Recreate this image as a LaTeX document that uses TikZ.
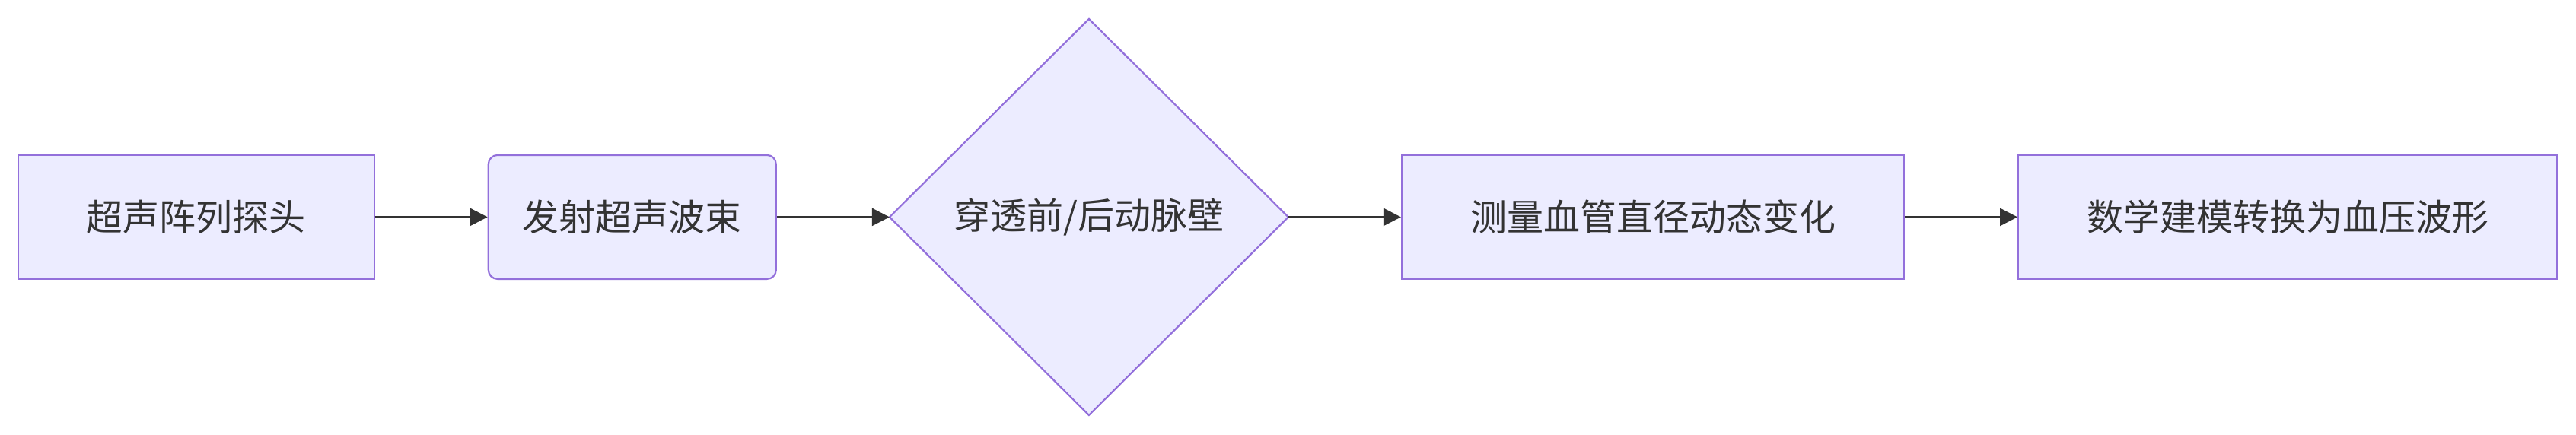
\documentclass[tikz,border=0pt]{standalone}
\usepackage{fontspec}
\setmainfont{Noto Sans CJK SC}
\usetikzlibrary{shapes.geometric, arrows.meta, positioning}
\definecolor{flowfill}{HTML}{ECECFF}
\definecolor{flowborder}{HTML}{9370DB}
\definecolor{flowtext}{HTML}{333333}
\tikzset{
    stepbox/.style={rectangle, minimum height=40.75pt, draw=flowborder, fill=flowfill, line width=0.55pt, text=flowtext, font=\fontsize{12pt}{14pt}\selectfont, align=center},
    roundbox/.style={stepbox, rounded corners=3pt},
    checkbox/.style={diamond, minimum width=131pt, minimum height=130.25pt, inner sep=0pt, outer sep=0pt, draw=flowborder, fill=flowfill, line width=0.55pt, text=flowtext, font=\fontsize{12pt}{14pt}\selectfont},
    arrow/.style={-{Triangle[length=5.75pt, width=5.75pt]}, line width=0.7pt, flowtext},
}

\begin{document}
\begin{tikzpicture}[node distance=37pt]

\useasboundingbox (0,0) rectangle (846.25pt,142.75pt);

% Nodes
\node[stepbox, minimum width=117pt] (probe) at (64.4pt,71.4pt) {超声阵列探头};
\node[roundbox, minimum width=94.5pt, right=of probe] (beam) {发射超声波束};
\node[checkbox, right=of beam] (wall) {穿透前/后动脉壁};
\node[stepbox, minimum width=165pt, right=of wall] (diameter) {测量血管直径动态变化};
\node[stepbox, minimum width=177pt, right=of diameter] (waveform) {数学建模转换为血压波形};

% Arrows
\draw[arrow] (probe) -- (beam);
\draw[arrow] (beam) -- (wall);
\draw[arrow] (wall) -- (diameter);
\draw[arrow] (diameter) -- (waveform);

\end{tikzpicture}
\end{document}
